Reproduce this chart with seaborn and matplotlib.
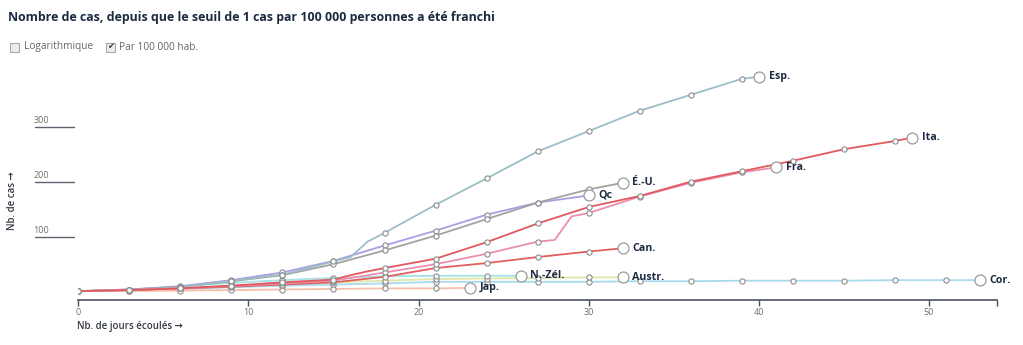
import matplotlib
matplotlib.use("Agg")
import matplotlib.pyplot as plt
from matplotlib.patches import Rectangle
import numpy as np
import pandas as pd
import seaborn as sns

# --- data: cases per 100 000 inhabitants, by days since threshold -----------
esp_days = [0, 3, 6, 9, 12, 15, 16, 17, 18, 21, 24, 27, 30, 33, 36, 39, 40]
esp_vals = [1, 3, 8, 20, 31, 55, 63, 91, 107, 158, 206, 255, 292, 329, 358, 387, 391]

ita_days = [0, 3, 6, 9, 12, 15, 16, 17, 18, 21, 24, 27, 30, 33, 36, 39, 42, 45, 48, 49]
ita_vals = [1, 3, 6, 11, 17, 22, 30, 37, 43, 60, 90, 124, 154, 174, 200, 219, 238, 259, 274, 280]

fra_days = [0, 3, 6, 9, 12, 15, 18, 21, 24, 27, 28, 29, 30, 33, 36, 39, 41]
fra_vals = [1, 3, 6, 10, 15, 20, 35, 50, 69, 91, 94, 137, 143, 173, 198, 217, 226]

usa_days = [0, 3, 6, 9, 12, 15, 18, 21, 24, 27, 30, 32]
usa_vals = [1, 4, 9, 19, 30, 50, 75, 102, 132, 162, 186, 198]

qc_days = [0, 3, 6, 9, 12, 15, 18, 21, 24, 27, 30]
qc_vals = [1, 4, 10, 21, 35, 56, 84, 111, 140, 162, 175]

can_days = [0, 3, 6, 9, 12, 15, 18, 21, 24, 27, 30, 32]
can_vals = [1, 3, 6, 9, 13, 17, 27, 43, 52, 63, 73, 79]

nz_days = [0, 3, 6, 9, 12, 15, 18, 21, 24, 26]
nz_vals = [1, 4, 9, 16, 21, 25, 28, 29, 29, 29]

aus_days = [0, 3, 6, 9, 12, 15, 18, 21, 24, 27, 30, 32]
aus_vals = [1, 3, 6, 11, 14, 17, 20, 23, 24, 25, 26, 26]

kor_days = [0, 3, 6, 9, 12, 15, 18, 21, 24, 27, 30, 33, 36, 39, 42, 45, 48, 51, 53]
kor_vals = [1, 2, 5, 8, 11, 13, 15, 18, 18, 18, 18, 19, 19, 20, 20, 20, 21, 21, 21]

jap_days = [0, 3, 6, 9, 12, 15, 18, 21, 23]
jap_vals = [1, 1, 2, 3, 4, 5, 6, 6, 7]

countries = ["Cor.", "Jap.", "Austr.", "N.-Zél.", "Can.", "Qc", "É.-U.", "Esp.", "Fra.", "Ita."]
series = {
    "Esp.": (esp_days, esp_vals),
    "Ita.": (ita_days, ita_vals),
    "Fra.": (fra_days, fra_vals),
    "É.-U.": (usa_days, usa_vals),
    "Qc": (qc_days, qc_vals),
    "Can.": (can_days, can_vals),
    "N.-Zél.": (nz_days, nz_vals),
    "Austr.": (aus_days, aus_vals),
    "Cor.": (kor_days, kor_vals),
    "Jap.": (jap_days, jap_vals),
}
palette = {
    "Esp.": "#9dbdc8",
    "Ita.": "#e2585e",
    "Fra.": "#ea8fb0",
    "É.-U.": "#a3a3a3",
    "Qc": "#a99ee6",
    "Can.": "#e0605c",
    "N.-Zél.": "#a6e2e2",
    "Austr.": "#dfe6a8",
    "Cor.": "#a9d9ec",
    "Jap.": "#f5c0a8",
}

rows = []
for c in countries:
    d, v = series[c]
    last = d[-1]
    for day, val in zip(d, v):
        rows.append({"pays": c, "jour": day, "cas": val,
                     "repere": day % 3 == 0 and day != last,
                     "fin": day == last})
df = pd.DataFrame(rows)

# --- figure -----------------------------------------------------------------
sns.set_theme(style="white")
plt.rcParams["font.family"] = ["Open Sans", "DejaVu Sans"]

W, H = 1023, 345
fig = plt.figure(figsize=(W / 100, H / 100), dpi=100)
x0, x1 = 78.3, 997.0
ax = fig.add_axes([x0 / W, 45 / H, (x1 - x0) / W, 240 / H])

sns.lineplot(data=df, x="jour", y="cas", hue="pays", hue_order=countries,
             palette=palette, linewidth=1.3, legend=False, estimator=None,
             sort=True, ax=ax, zorder=2)
sns.scatterplot(data=df[df["repere"]], x="jour", y="cas", s=14,
                color="white", edgecolor="#8c8c8c", linewidth=0.8,
                legend=False, ax=ax, zorder=3)
ends = df[df["fin"]]
sns.scatterplot(data=ends, x="jour", y="cas", s=62,
                color="white", edgecolor="#9a9a9a", linewidth=0.9,
                legend=False, ax=ax, zorder=4)
for _, r in ends.iterrows():
    ax.annotate(r["pays"], (r["jour"], r["cas"]), xytext=(7, 0),
                textcoords="offset points", va="center", ha="left",
                fontsize=7.7, fontweight="bold", color="#1c2a42", zorder=5)

ax.set_xlim(0, 54)
ax.set_ylim((291.7 - 300) / 0.55, (291.7 - 60) / 0.55)
for s in ["top", "right", "left"]:
    ax.spines[s].set_visible(False)
ax.spines["bottom"].set_color("#4a5060")
ax.spines["bottom"].set_linewidth(1.2)
ax.spines["bottom"].set_position(("data", (291.7 - 299.5) / 0.55))
ax.set_xticks([0, 10, 20, 30, 40, 50])
ax.set_xticks([54], minor=True)
ax.tick_params(axis="x", which="both", direction="out", length=4, width=1,
               color="#4a5060", labelsize=6.5, labelcolor="#707070", pad=2,
               bottom=True)
ax.set_yticks([])
ax.set_xlabel("")
ax.set_ylabel("")

# y reference stubs with their values
stub_l = (35 - x0) / (x1 - x0)
stub_r = (74 - x0) / (x1 - x0)
for v in [100, 200, 300]:
    ax.plot([stub_l, stub_r], [v, v], transform=ax.get_yaxis_transform(),
            color="#5c6270", linewidth=1.0, clip_on=False)
    ax.annotate(str(v), (stub_l - 0.002, v), xytext=(0, 1.5),
                textcoords="offset points", xycoords=ax.get_yaxis_transform(),
                ha="left", va="bottom", fontsize=6.5, color="#707070")

# titles and axis captions
fig.text(8 / W, 1 - 18 / H,
         "Nombre de cas, depuis que le seuil de 1 cas par 100 000 personnes a été franchi",
         fontsize=8.9, fontweight="bold", color="#1b2a41", va="center", ha="left")
fig.text(13 / W, 1 - 201 / H, "Nb. de cas →", rotation=90, fontsize=7,
         fontweight="semibold", color="#333a45", va="center", ha="center")
fig.text(77 / W, 1 - 327 / H, "Nb. de jours écoulés →", fontsize=7,
         fontweight="semibold", color="#333a45", va="center", ha="left")

# option toggles
for bx, checked, label, lx in [(10, False, "Logarithmique", 24),
                              (106, True, "Par 100 000 hab.", 119)]:
    fig.add_artist(Rectangle((bx / W, 1 - 51.5 / H), 8.5 / W, 8.5 / H,
                             transform=fig.transFigure, facecolor="#ececec",
                             edgecolor="#a8a8a8", linewidth=0.8))
    if checked:
        fig.text((bx + 4.3) / W, 1 - 47 / H, "✔", fontsize=6, color="#3a3a3a",
                 ha="center", va="center", family=["DejaVu Sans"])
    fig.text(lx / W, 1 - 47 / H, label, fontsize=7.3, color="#666666",
             va="center", ha="left")

fig.savefig("out.png", dpi=100, facecolor="white")
